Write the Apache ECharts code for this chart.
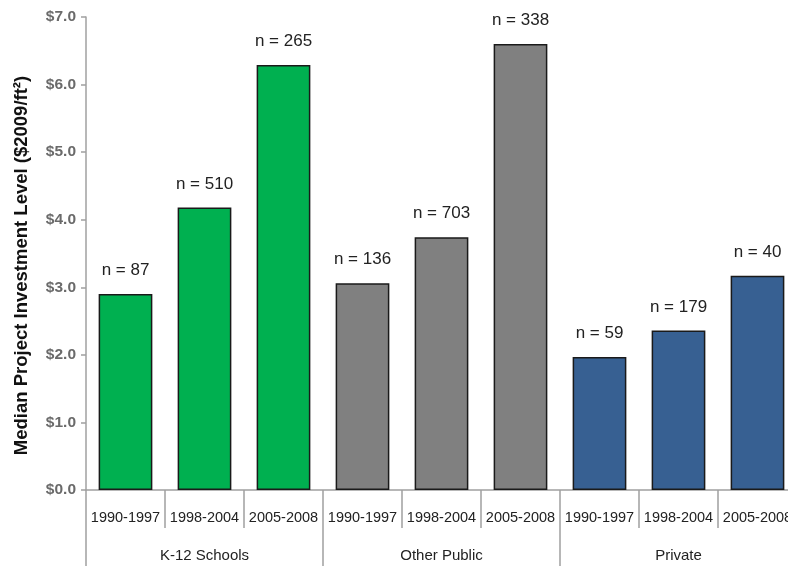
<!DOCTYPE html>
<html>
<head>
<meta charset="utf-8">
<script src="https://cdn.jsdelivr.net/npm/echarts@6/dist/echarts.min.js"></script>
<style>
  html, body { margin: 0; padding: 0; background: #fff; overflow: hidden; }
  /* the canvas is a little wider than the page, so the last column is clipped at the edge */
  #chart { width: 797px; height: 566px; }
</style>
</head>
<body>
<div id="chart"></div>
<script>
// Building groups and the construction periods within each group
const groups = ['K-12 Schools', 'Other Public', 'Private'];
const periods = ['1990-1997', '1998-2004', '2005-2008'];

// Median investment per square foot ($2009/ft²), in group order
const medianInvestment = [2.90, 4.18, 6.29, 3.06, 3.74, 6.60, 1.97, 2.36, 3.17];
// Number of projects behind each median
const projectCounts = [87, 510, 265, 136, 703, 338, 59, 179, 40];

const yTicks = ['$0.0', '$1.0', '$2.0', '$3.0', '$4.0', '$5.0', '$6.0', '$7.0'];
const groupColors = ['#00B050', '#808080', '#376092'];

const categories = [];
groups.forEach(() => periods.forEach(p => categories.push(p)));

const barData = medianInvestment.map((v, i) => ({
  value: v,
  itemStyle: { color: groupColors[Math.floor(i / periods.length)] }
}));

const chart = echarts.init(document.getElementById('chart'), null, { renderer: 'canvas' });
const font = 'Liberation Sans, Arial, sans-serif';

chart.setOption({
  animation: false,
  backgroundColor: '#ffffff',
  grid: { left: 86, right: 0, top: 17, bottom: 76, containLabel: false },
  xAxis: [
    {
      type: 'category',
      data: categories,
      position: 'bottom',
      axisLine: { show: true, lineStyle: { color: '#a0a0a0', width: 1.5 } },
      axisTick: { show: true, length: 38, interval: 0, lineStyle: { color: '#a0a0a0', width: 1.5 } },
      axisLabel: { interval: 0, margin: 20, color: '#222', fontSize: 14.5, fontFamily: font }
    },
    {
      type: 'category',
      data: groups,
      position: 'bottom',
      axisLine: { show: false },
      axisTick: { show: true, length: 80, interval: 0, lineStyle: { color: '#a0a0a0', width: 1.5 } },
      axisLabel: { interval: 0, margin: 58, color: '#222', fontSize: 15, fontFamily: font }
    }
  ],
  yAxis: {
    type: 'value',
    min: 0,
    max: 7,
    interval: 1,
    name: 'Median Project Investment Level ($2009/ft²)',
    nameLocation: 'middle',
    nameGap: 55,
    nameRotate: 90,
    nameTextStyle: {
      color: '#111',
      fontSize: 18.5,
      fontWeight: 'bold',
      fontFamily: font,
      padding: [0, 24, 0, 0]
    },
    axisLine: { show: true, lineStyle: { color: '#a0a0a0', width: 1.5 } },
    axisTick: { show: true, length: 5, lineStyle: { color: '#a0a0a0', width: 1.5 } },
    splitLine: { show: false },
    axisLabel: {
      margin: 10,
      color: '#6a6a6a',
      fontSize: 15.5,
      fontWeight: 'bold',
      fontFamily: font,
      formatter: (v) => yTicks[Math.round(v)]
    }
  },
  series: [
    {
      type: 'bar',
      xAxisIndex: 0,
      data: barData,
      barCategoryGap: '32%',
      itemStyle: { borderColor: '#1a1a1a', borderWidth: 1.5 },
      label: {
        show: true,
        position: 'top',
        distance: 15,
        color: '#222',
        fontSize: 17,
        fontFamily: font,
        formatter: (p) => 'n = ' + projectCounts[p.dataIndex]
      }
    }
  ]
});
</script>
</body>
</html>
